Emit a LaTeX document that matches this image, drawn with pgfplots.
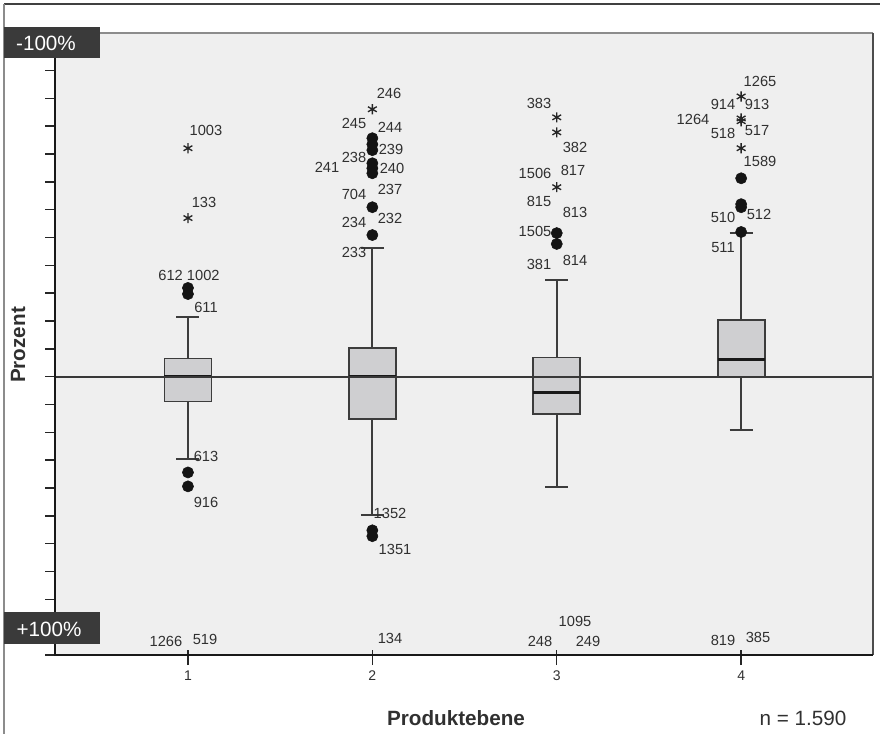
\documentclass[border=0pt]{standalone}
\usepackage{pgfplots}
\pgfplotsset{compat=1.18}
\usepgfplotslibrary{statistics}
\usepackage{fontspec}
\setmainfont{Liberation Sans}
\definecolor{bg}{HTML}{EFEFEF}
\definecolor{boxfill}{HTML}{CFCFD1}
\definecolor{boxline}{HTML}{3C3C3C}
\definecolor{darkbox}{HTML}{3A3A3A}
\definecolor{txt}{HTML}{303030}
\begin{document}
\begin{tikzpicture}
\path[use as bounding box] (0,0) rectangle (660pt,-550.5pt);
\begin{axis}[
  at={(348pt,-258pt)}, anchor=center,
  scale only axis, width=613.5pt, height=466.5pt,
  xmin=0.279, xmax=4.715, ymin=-100, ymax=123.5,
  axis background/.style={fill=bg},
  axis line style={draw=none},
  clip=false,
  xtick={1,2,3,4}, xticklabels={1,2,3,4},
  ytick={-100,-90,...,110}, yticklabels={},
  tick pos=left, tick align=outside, major tick length=7.5pt,
  tick style={color=black!85, line width=1.1pt},
  xticklabel style={font=\fontsize{10.5}{12}\selectfont, text=txt, yshift=-1pt},
  boxplot/draw direction=y,
  boxplot/every box/.style={draw=boxline, fill=boxfill, line width=1.3pt},
  boxplot/every whisker/.style={draw=boxline, line width=1.4pt},
  boxplot/every median/.style={draw=black!90, line width=2.3pt},
]
\addplot[boxplot prepared={draw position=1, lower whisker=-29.7, lower quartile=-8.9, median=0, upper quartile=6.5, upper whisker=21.5, box extend=0.255, whisker extend=0.125}, boxplot/draw direction=y] coordinates {};
\addplot[boxplot prepared={draw position=2, lower whisker=-49.8, lower quartile=-15.1, median=0, upper quartile=10.3, upper whisker=46.2, box extend=0.255, whisker extend=0.125}, boxplot/draw direction=y] coordinates {};
\addplot[boxplot prepared={draw position=3, lower whisker=-39.7, lower quartile=-13.4, median=-5.8, upper quartile=6.9, upper whisker=34.8, box extend=0.255, whisker extend=0.125}, boxplot/draw direction=y] coordinates {};
\addplot[boxplot prepared={draw position=4, lower whisker=-19.2, lower quartile=0, median=6.1, upper quartile=20.4, upper whisker=51.6, box extend=0.255, whisker extend=0.125}, boxplot/draw direction=y] coordinates {};
% zero line
\addplot[forget plot, line width=1.3pt, color=black!78] coordinates {(0.279,0) (4.715,0)};
% outliers (circles)
\addplot[only marks, mark=*, mark size=4.2pt, mark options={fill=black!92, draw=black!92}] coordinates {
 (1,31.9) (1,29.7) (1,-34.4) (1,-39.4)
 (2,85.7) (2,83.5) (2,81.4) (2,76.7) (2,74.9) (2,73.1) (2,60.9) (2,50.9) (2,-55.2) (2,-57.3)
 (3,51.6) (3,47.7)
 (4,71.3) (4,62.0) (4,60.9) (4,52.0)};
% extremes (asterisks)
\addplot[only marks, mark=asterisk, mark size=3.8pt, mark options={line width=1pt, draw=black!85}] coordinates {
 (1,82.1) (1,57.0)
 (2,96.1)
 (3,93.2) (3,87.8) (3,68.1)
 (4,100.7) (4,92.8) (4,91.8) (4,82.1)};
% clipped extremes at +100%
\addplot[only marks, mark=+, mark size=3.5pt, mark options={line width=1.1pt, draw=black!85}] coordinates {
 (1,-100) (2,-100) (3,-100) (4,-100)};
\end{axis}
\begin{scope}[x=0.75pt,y=-0.75pt]
 % outer frame
 \draw[line width=2pt, color=black!75] (4,4) -- (880,4);
 \draw[line width=0.8pt, color=black!45] (4,4) -- (4,734);
 % axis frame
 \draw[line width=1.5pt, color=black!45] (55,33) -- (873,33);
 \draw[line width=1.5pt, color=black!70] (873,33) -- (873,655);
 \draw[line width=1.3pt, color=black!90] (55,33) -- (55,655) -- (873,655);
 % dark label boxes
 \fill[darkbox] (4,27) rectangle (100,58);
 \node[text=white, font=\fontsize{15.5}{18}\selectfont, inner sep=0pt] at (46,43) {-100\%};
 \fill[darkbox] (4,612) rectangle (100,644);
 \node[text=white, font=\fontsize{15.5}{18}\selectfont, inner sep=0pt] at (49,629) {+100\%};
 % axis titles
 \node[rotate=90, font=\bfseries\fontsize{15.5}{18}\selectfont, text=txt, inner sep=0pt] at (18,345) {Prozent};
 \node[font=\bfseries\fontsize{15.5}{18}\selectfont, text=txt, inner sep=0pt] at (456,718) {Produktebene};
 \node[font=\fontsize{15.5}{18}\selectfont, text=txt, inner sep=0pt] at (803,718) {n = 1.590};
 % case labels
 \foreach \px/\py/\t in {
   206/130/1003, 204/202/133, 189/275/612 1002, 206/307/611, 206/456/613, 206/502/916, 166/641/1266, 205/639/519,
   389/93/246, 354/123/245, 390/127/244, 354/157/238, 391/149/239, 327/167/241, 392/168/240, 354/194/704, 390/189/237,
   354/222/234, 390/218/232, 354/252/233, 390/513/1352, 395/549/1351, 390/638/134,
   539/103/383, 575/147/382, 535/173/1506, 573/170/817, 539/201/815, 575/212/813, 535/231/1505, 539/264/381, 575/260/814,
   575/621/1095, 540/641/248, 588/641/249,
   760/81/1265, 723/104/914, 757/104/913, 693/119/1264, 723/133/518, 757/131/517, 760/161/1589, 723/217/510, 759/214/512,
   723/248/511, 723/640/819, 758/637/385}
   \node[font=\fontsize{11}{13}\selectfont, text=txt, inner sep=0pt] at (\px,\py) {\t};
\end{scope}
\end{tikzpicture}
\end{document}
